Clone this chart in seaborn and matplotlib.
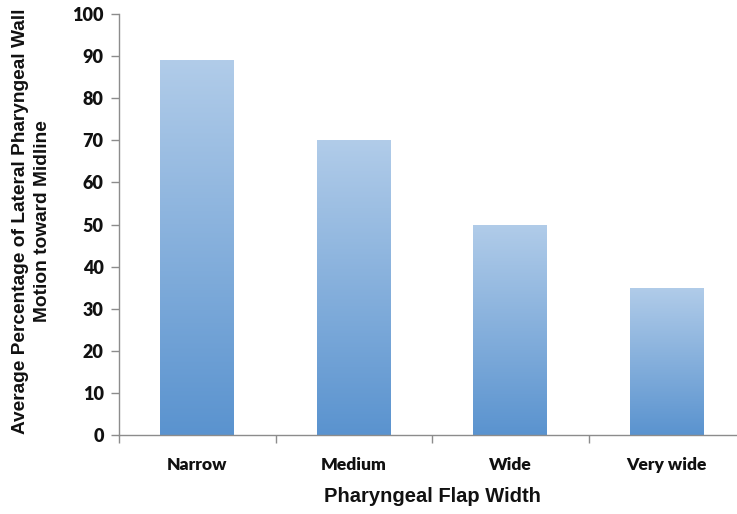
import numpy as np
import pandas as pd
import matplotlib
matplotlib.use("Agg")
import matplotlib.pyplot as plt
import seaborn as sns
from matplotlib.colors import LinearSegmentedColormap

categories = ["Narrow", "Medium", "Wide", "Very wide"]
values = [89, 70, 50, 35]
y_ticks = [0, 10, 20, 30, 40, 50, 60, 70, 80, 90, 100]

df = pd.DataFrame({"width": categories, "pct": values})

sns.set_theme(style="white")
plt.rcParams["font.family"] = ["Liberation Sans", "DejaVu Sans"]

fig = plt.figure(figsize=(7.37, 5.14), dpi=100)
ax = fig.add_axes([119/737, 1-435/514, 1-119/737, (435-14)/514])

sns.barplot(data=df, x="width", y="pct", ax=ax, color="#7fa9db", width=0.47,
            saturation=1, edgecolor="none")

cmap = LinearSegmentedColormap.from_list("g", ["#5a93cf", "#b1cce9"])
grad = np.linspace(0, 1, 256).reshape(-1, 1)
for p in ax.patches:
    x0, y0 = p.get_x(), p.get_y()
    w, h = p.get_width(), p.get_height()
    im = ax.imshow(grad, cmap=cmap, origin="lower", aspect="auto",
                   extent=[x0, x0 + w, y0, y0 + h], zorder=p.get_zorder() + 0.1)
    im.set_clip_path(p)

ax.set_xlim(-0.5, -0.5 + (737 - 119) / 156.5)
ax.set_ylim(0, 100)
ax.set_yticks(y_ticks)
ax.set_xticks([-0.5, 0.5, 1.5, 2.5], minor=False)
ax.set_xticklabels([])
ax.set_xticks([0, 1, 2, 3], minor=True)
ax.set_xticklabels(categories, minor=True)

for s in ["top", "right"]:
    ax.spines[s].set_visible(False)
for s in ["left", "bottom"]:
    ax.spines[s].set_color("#8c8c8c")
    ax.spines[s].set_linewidth(1.0)

ax.tick_params(axis="y", which="major", direction="out", length=6, width=1,
               color="#8c8c8c", left=True, pad=5)
ax.tick_params(axis="x", which="major", direction="out", length=6, width=1,
               color="#8c8c8c", bottom=True)
ax.tick_params(axis="x", which="minor", length=0, pad=16)

for lab in ax.get_yticklabels():
    lab.set_fontfamily(["Lato", "DejaVu Sans"])
    lab.set_fontweight("heavy")
    lab.set_fontsize(13)
    lab.set_color("#111111")
for lab in ax.get_xticklabels(minor=True):
    lab.set_fontfamily(["Lato", "DejaVu Sans"])
    lab.set_fontweight("heavy")
    lab.set_fontsize(12.6)
    lab.set_color("#111111")

ax.set_xlabel("")
ax.set_ylabel("")
fig.text((119 + 745) / 2 / 737, 1 - 497 / 514, "Pharyngeal Flap Width",
         ha="center", va="center", fontsize=14.5, fontweight="bold", color="#111111")
fig.text(31.5 / 737, 1 - 221 / 514,
         "Average Percentage of Lateral Pharyngeal Wall\nMotion toward Midline",
         ha="center", va="center", rotation=90, fontsize=13.8, fontweight="bold",
         color="#111111", linespacing=1.45)

fig.savefig("out.png", dpi=100)
